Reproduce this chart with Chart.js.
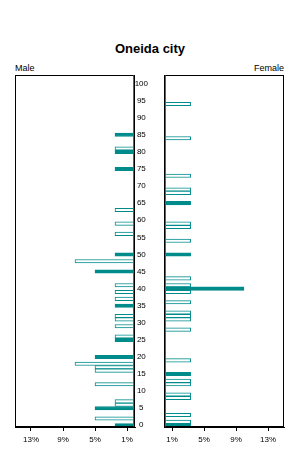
<!DOCTYPE html>
<html>
<head>
<meta charset="utf-8">
<script src="https://cdn.jsdelivr.net/npm/chart.js@4"></script>
<style>
  body { margin: 0; background: #fff; }
  #wrap { position: relative; width: 300px; height: 450px; font-family: "Liberation Sans", Arial, sans-serif; color: #000; }
  #title { position: absolute; left: 0; width: 300px; top: 42px; text-align: center; font-weight: bold; font-size: 13px; line-height: 13px; }
  #male { position: absolute; left: 15px; top: 64px; font-size: 9px; line-height: 9px; }
  #female { position: absolute; right: 16px; top: 64px; font-size: 9px; line-height: 9px; }
  #left { position: absolute; left: 0; top: 0; width: 150px; height: 450px; }
  #right { position: absolute; left: 135px; top: 0; width: 165px; height: 450px; }
</style>
</head>
<body>
<div id="wrap">
  <div id="title">Oneida city</div>
  <div id="male">Male</div>
  <div id="female">Female</div>
  <div id="left"><canvas id="maleChart"></canvas></div>
  <div id="right"><canvas id="femaleChart"></canvas></div>
</div>
<script>
// 연령 (나이별 인원이 있는 칸만)
const maleAges = [85, 81, 80, 75, 63, 59, 56, 50, 48, 45, 41, 39, 37, 35, 32, 31, 29, 26, 25, 20, 18, 17, 16, 12, 7, 6, 5, 2, 0];
const maleShare = [2.5, 2.5, 2.5, 2.5, 2.5, 2.5, 2.5, 2.5, 7.5, 5, 2.5, 2.5, 2.5, 2.5, 2.5, 2.5, 2.5, 2.5, 2.5, 5, 7.5, 5, 5, 5, 2.5, 2.5, 5, 5, 2.5];

const femaleAges = [94, 84, 73, 69, 68, 65, 59, 58, 54, 50, 43, 41, 40, 39, 36, 33, 32, 31, 28, 19, 15, 13, 12, 9, 8, 3, 1, 0];
const femaleShare = [3.33, 3.33, 3.33, 3.33, 3.33, 3.33, 3.33, 3.33, 3.33, 3.33, 3.33, 3.33, 10, 3.33, 3.33, 3.33, 3.33, 3.33, 3.33, 3.33, 3.33, 3.33, 3.33, 3.33, 3.33, 3.33, 3.33, 3.33];

// 축 눈금
const ageTicks = [0, 5, 10, 15, 20, 25, 30, 35, 40, 45, 50, 55, 60, 65, 70, 75, 80, 85, 90, 95, 100];
const pctTicks = [1, 5, 9, 13];

const teal = '#008b8b';
Chart.defaults.font.family = '"Liberation Sans", Arial, sans-serif';
Chart.defaults.color = '#000';

// 테두리 상자 그리기
const boxPlugin = {
    id: 'box',
    afterDraw(chart, args, opts) {
        const { ctx, chartArea: a } = chart;
        const l = Math.round(a.left) + 0.5, r = Math.round(a.right) - 0.5;
        const t = Math.round(a.top) + 0.5, b = Math.round(a.bottom) - 0.5;
        ctx.save();
        ctx.lineWidth = 1;
        ctx.strokeStyle = '#000';
        ctx.strokeRect(l, t, r - l, b - t);
        // 0% 쪽 안쪽 선
        const x = opts.side === 'right' ? r - 1 : l + 1;
        ctx.strokeStyle = teal;
        ctx.beginPath();
        ctx.moveTo(x, t);
        ctx.lineTo(x, b);
        ctx.stroke();
        ctx.restore();
    }
};

function makeChart(id, ages, share, isMale) {
    return new Chart(document.getElementById(id), {
        type: 'bar',
        data: {
            datasets: [{
                data: ages.map((a, i) => ({ x: share[i], y: a })),
                backgroundColor: c => (c.raw && c.raw.y % 5 === 0 ? teal : '#fff'),
                borderColor: teal,
                borderWidth: 1,
                borderSkipped: false,
                barPercentage: 1,
                categoryPercentage: 1,
            }],
        },
        options: {
            indexAxis: 'y',
            responsive: true,
            maintainAspectRatio: false,
            animation: false,
            layout: {
                padding: isMale ? { left: 15, right: 15, top: 75, bottom: 0 } : { left: 0, right: 16, top: 75, bottom: 0 },
            },
            plugins: {
                legend: { display: false },
                tooltip: { enabled: false },
                box: { side: isMale ? 'right' : 'left' },
            },
            scales: {
                x: {
                    type: 'linear',
                    reverse: isMale,
                    min: 0,
                    max: 15,
                    afterBuildTicks: s => { s.ticks = pctTicks.map(v => ({ value: v })); },
                    afterFit: s => { s.height = 23; },
                    grid: { drawOnChartArea: false, tickLength: 4, color: '#000' },
                    border: { color: '#000' },
                    ticks: { padding: 4, font: { size: 8 }, callback: v => v + '%' },
                },
                y: {
                    type: 'linear',
                    position: 'left',
                    offset: false,
                    min: -0.5,
                    max: 102.5,
                    display: !isMale,
                    afterBuildTicks: s => { s.ticks = ageTicks.map(v => ({ value: v })); },
                    afterFit: s => { s.width = isMale ? 0 : 29; },
                    grid: { display: false },
                    border: { display: false },
                    ticks: { crossAlign: 'center', padding: 8, autoSkip: false, font: { size: 8 } },
                },
            },
        },
        plugins: [boxPlugin],
    });
}

const maleChart = makeChart('maleChart', maleAges, maleShare, true);
const femaleChart = makeChart('femaleChart', femaleAges, femaleShare, false);
</script>
</body>
</html>
